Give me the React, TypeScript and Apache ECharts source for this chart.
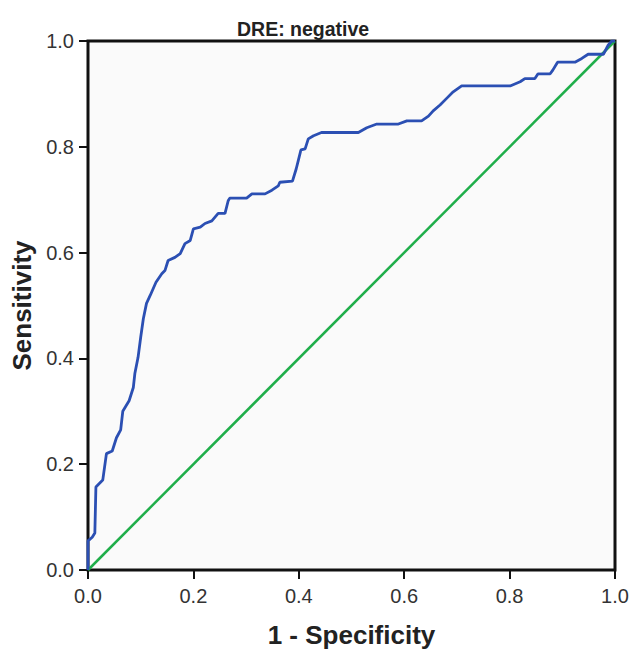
import React, { useEffect, useRef } from "react";
import * as echarts from "echarts";

const fpr: number[] = [0, 0, 0.008, 0.013, 0.015, 0.028, 0.035, 0.046, 0.054, 0.062, 0.066, 0.078, 0.086, 0.089, 0.095, 0.1, 0.105, 0.111, 0.118, 0.129, 0.14, 0.146, 0.152, 0.165, 0.175, 0.184, 0.194, 0.2, 0.213, 0.222, 0.235, 0.247, 0.26, 0.266, 0.269, 0.301, 0.311, 0.336, 0.349, 0.361, 0.364, 0.388, 0.395, 0.399, 0.404, 0.412, 0.418, 0.428, 0.443, 0.513, 0.529, 0.548, 0.589, 0.605, 0.633, 0.646, 0.655, 0.668, 0.681, 0.693, 0.709, 0.801, 0.82, 0.829, 0.848, 0.854, 0.877, 0.882, 0.891, 0.924, 0.937, 0.949, 0.978, 0.987, 0.994, 1];
const tpr: number[] = [0, 0.055, 0.062, 0.07, 0.157, 0.17, 0.22, 0.225, 0.25, 0.265, 0.3, 0.32, 0.345, 0.372, 0.402, 0.44, 0.475, 0.504, 0.519, 0.544, 0.56, 0.566, 0.585, 0.591, 0.598, 0.617, 0.623, 0.645, 0.648, 0.655, 0.66, 0.674, 0.674, 0.698, 0.703, 0.703, 0.711, 0.711, 0.718, 0.726, 0.733, 0.735, 0.758, 0.774, 0.794, 0.796, 0.815, 0.821, 0.827, 0.827, 0.836, 0.843, 0.843, 0.849, 0.849, 0.858, 0.868, 0.879, 0.892, 0.904, 0.915, 0.915, 0.923, 0.929, 0.929, 0.938, 0.938, 0.945, 0.96, 0.96, 0.967, 0.975, 0.975, 0.992, 1, 1];
const refX: number[] = [0, 1];
const refY: number[] = [0, 1];

const titleText = "DRE: negative";
const xName = "1 - Specificity";
const yName = "Sensitivity";

const labelFont = "'Liberation Sans', Arial, sans-serif";
const boldFont = "'Liberation Sans', Arial, sans-serif";

export default function App() {
  const ref = useRef<HTMLDivElement>(null);
  useEffect(() => {
    if (!ref.current) return;
    const chart = echarts.init(ref.current, undefined, { renderer: "svg" });
    const axisCommon = {
      type: "value" as const,
      min: 0,
      max: 1,
      interval: 0.2,
      splitLine: { show: false },
      axisLine: { show: true, lineStyle: { color: "#111", width: 2 } },
      axisTick: { show: true, length: 9, lineStyle: { color: "#111", width: 2 } },
      axisLabel: {
        color: "#333",
        fontSize: 20,
        fontFamily: labelFont,
        formatter: (v: number) => v.toFixed(1),
      },
      nameLocation: "middle" as const,
      nameTextStyle: {
        color: "#222",
        fontSize: 26,
        fontWeight: "bold" as const,
        fontFamily: boldFont,
      },
    };
    chart.setOption({
      animation: false,
      backgroundColor: "#ffffff",
      title: {
        text: titleText,
        left: 232,
        top: 14,
        textStyle: { color: "#222", fontSize: 19.5, fontWeight: "bold", fontFamily: boldFont },
      },
      grid: {
        left: 88,
        top: 41,
        width: 527,
        height: 529,
        show: true,
        backgroundColor: "#fafafa",
        borderColor: "#111",
        borderWidth: 3,
      },
      xAxis: {
        ...axisCommon,
        name: xName,
        nameGap: 52,
        axisLabel: { ...axisCommon.axisLabel, margin: 16 },
      },
      yAxis: {
        ...axisCommon,
        name: yName,
        nameGap: 50,
        axisLabel: { ...axisCommon.axisLabel, margin: 14 },
      },
      series: [
        {
          type: "line",
          data: refX.map((x, i) => [x, refY[i]]),
          showSymbol: false,
          lineStyle: { color: "#1fae4a", width: 2.5 },
          z: 2,
        },
        {
          type: "line",
          data: fpr.map((x, i) => [x, tpr[i]]),
          showSymbol: false,
          lineStyle: { color: "#2b4fb3", width: 2.8 },
          z: 3,
        },
      ],
    });
    return () => chart.dispose();
  }, []);
  return (
    <div
      ref={ref}
      style={{ position: "fixed", left: 0, top: 0, width: 633, height: 654, overflow: "visible" }}
    />
  );
}
